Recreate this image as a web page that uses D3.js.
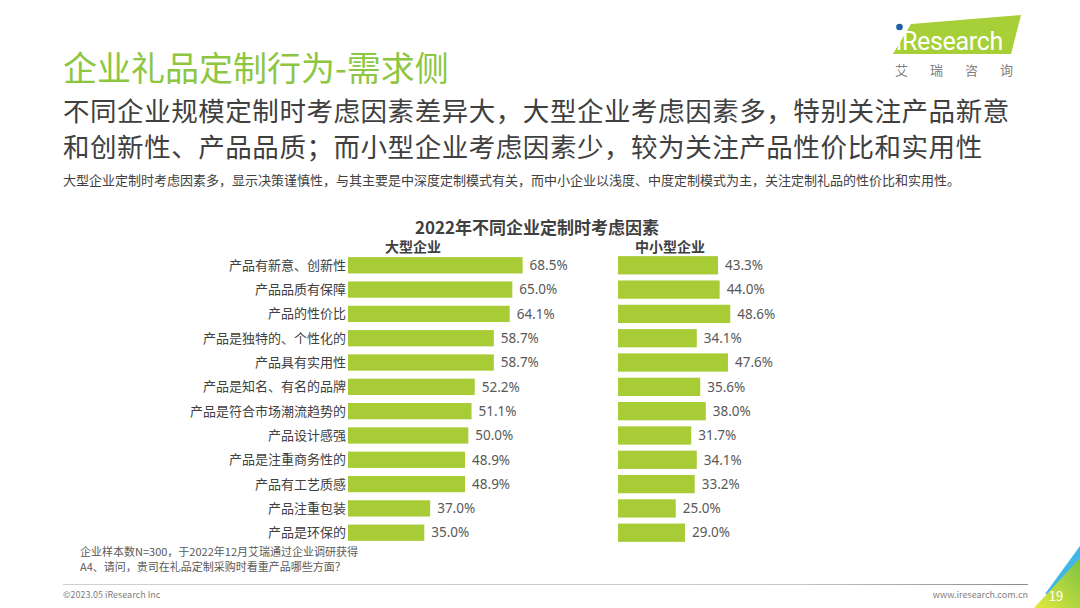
<!DOCTYPE html>
<html>
<head>
<meta charset="utf-8">
<script src="https://cdn.jsdelivr.net/npm/d3@7/dist/d3.min.js"></script>
<style>
  body { margin: 0; background: #fff; }
  svg { display: block; font-family: "Noto Sans CJK SC", "Noto Sans", sans-serif; }
</style>
</head>
<body>
<div id="graph"></div>
<script>
var categories = ["产品有新意、创新性", "产品品质有保障", "产品的性价比", "产品是独特的、个性化的",
    "产品具有实用性", "产品是知名、有名的品牌", "产品是符合市场潮流趋势的", "产品设计感强",
    "产品是注重商务性的", "产品有工艺质感", "产品注重包装", "产品是环保的"];
var largeValues = [68.5, 65.0, 64.1, 58.7, 58.7, 52.2, 51.1, 50.0, 48.9, 48.9, 37.0, 35.0];
var smallValues = [43.3, 44.0, 48.6, 34.1, 47.6, 35.6, 38.0, 31.7, 34.1, 33.2, 25.0, 29.0];
var seriesNames = ["大型企业", "中小型企业"];
var chartTitle = "2022年不同企业定制时考虑因素";

var w = 1080;
var h = 608;
var green = "#a8cc36";
var textColor = "#404040";

var svg = d3.select("#graph")
    .append("svg")
    .attr("width", w)
    .attr("height", h);

// gradients for the footer line and the corner
var defs = svg.append("defs");
var lineGrad = defs.append("linearGradient").attr("id", "lineGrad");
lineGrad.append("stop").attr("offset", "0%").attr("stop-color", "#d0d0d0");
lineGrad.append("stop").attr("offset", "75%").attr("stop-color", "#c8c8c8");
lineGrad.append("stop").attr("offset", "100%").attr("stop-color", "#8a8a8a");

var cornerGrad = defs.append("linearGradient").attr("id", "cornerGrad")
    .attr("x1", "0%").attr("y1", "100%").attr("x2", "100%").attr("y2", "0%");
cornerGrad.append("stop").attr("offset", "0%").attr("stop-color", "#e2ea3c");
cornerGrad.append("stop").attr("offset", "100%").attr("stop-color", "#7cc242");

// header
svg.append("text")
    .attr("x", 63).attr("y", 81)
    .attr("font-size", "34px")
    .attr("fill", "#8dc641")
    .text("企业礼品定制行为-需求侧");

svg.append("text")
    .attr("x", 63).attr("y", 121)
    .attr("font-size", "26.5px")
    .attr("letter-spacing", "0.55px")
    .attr("fill", textColor)
    .text("不同企业规模定制时考虑因素差异大，大型企业考虑因素多，特别关注产品新意");

svg.append("text")
    .attr("x", 63).attr("y", 157)
    .attr("font-size", "26.5px")
    .attr("letter-spacing", "0.55px")
    .attr("fill", textColor)
    .text("和创新性、产品品质；而小型企业考虑因素少，较为关注产品性价比和实用性");

svg.append("text")
    .attr("x", 63).attr("y", 185)
    .attr("font-size", "13px")
    .attr("fill", textColor)
    .text("大型企业定制时考虑因素多，显示决策谨慎性，与其主要是中深度定制模式有关，而中小企业以浅度、中度定制模式为主，关注定制礼品的性价比和实用性。");

// logo
svg.append("polygon")
    .attr("points", "893,54 911,24 1021,15 1011,54")
    .attr("fill", "#a6cf38");
svg.append("circle")
    .attr("cx", 899.5).attr("cy", 27).attr("r", 3.3)
    .attr("fill", "#1f5fa8");
svg.append("text")
    .attr("x", 896).attr("y", 50)
    .attr("font-family", "Roboto, sans-serif")
    .attr("font-size", "25px")
    .attr("letter-spacing", "-0.3px")
    .attr("fill", "#fff")
    .text("ıResearch");
svg.append("text")
    .attr("x", 895).attr("y", 75)
    .attr("font-size", "13px")
    .attr("letter-spacing", "22px")
    .attr("fill", "#7f7f7f")
    .text("艾瑞咨询");

// chart
var y = d3.scaleBand()
    .domain(categories)
    .range([253, 545])
    .paddingInner(0.33)
    .paddingOuter(0.17);

// left axis in the source does not start at zero
var xLarge = d3.scaleLinear().domain([9, 70]).range([348, 527]);
var xSmall = d3.scaleLinear().domain([0, 50]).range([618, 733.5]);

svg.append("text")
    .attr("x", 537).attr("y", 234)
    .attr("text-anchor", "middle")
    .attr("font-size", "17px")
    .attr("font-weight", "bold")
    .attr("fill", textColor)
    .text(chartTitle);

var headerX = [413, 670];
svg.selectAll(".series-name")
    .data(seriesNames)
    .enter()
    .append("text")
    .attr("class", "series-name")
    .attr("x", function(d, i) { return headerX[i]; })
    .attr("y", 252)
    .attr("text-anchor", "middle")
    .attr("font-size", "14px")
    .attr("font-weight", "bold")
    .attr("fill", textColor)
    .text(function(d) { return d; });

// category labels
svg.selectAll(".cat")
    .data(categories)
    .enter()
    .append("text")
    .attr("class", "cat")
    .attr("x", 346)
    .attr("y", function(d) { return y(d) + y.bandwidth() / 2; })
    .attr("dy", "0.35em")
    .attr("text-anchor", "end")
    .attr("font-size", "13px")
    .attr("fill", textColor)
    .text(function(d) { return d; });

function drawBars(values, x, extra) {
    var g = svg.append("g");
    g.selectAll("rect")
        .data(values)
        .enter()
        .append("rect")
        .attr("x", x.range()[0])
        .attr("y", function(d, i) { return y(categories[i]) - extra / 2; })
        .attr("width", function(d) { return x(d) - x.range()[0]; })
        .attr("height", y.bandwidth() + extra)
        .attr("fill", green);

    g.selectAll("text")
        .data(values)
        .enter()
        .append("text")
        .attr("x", function(d) { return x(d) + 7; })
        .attr("y", function(d, i) { return y(categories[i]) + y.bandwidth() / 2; })
        .attr("dy", "0.35em")
        .attr("font-family", "'Noto Sans', sans-serif")
        .attr("font-size", "13.5px")
        .attr("fill", "#595959")
        .text(function(d) { return d.toFixed(1) + "%"; });
}

drawBars(largeValues, xLarge, 0);
drawBars(smallValues, xSmall, 2);

// notes
svg.append("text")
    .attr("x", 80).attr("y", 556)
    .attr("font-size", "11px")
    .attr("fill", "#595959")
    .text("企业样本数N=300，于2022年12月艾瑞通过企业调研获得");
svg.append("text")
    .attr("x", 80).attr("y", 571)
    .attr("font-size", "11px")
    .attr("fill", "#595959")
    .text("A4、请问，贵司在礼品定制采购时看重产品哪些方面？");

// footer
svg.append("rect")
    .attr("x", 63).attr("y", 584)
    .attr("width", 965).attr("height", 1)
    .attr("fill", "url(#lineGrad)");
svg.append("text")
    .attr("x", 63).attr("y", 598)
    .attr("font-size", "9px")
    .attr("fill", "#7f7f7f")
    .text("©2023.05 iResearch Inc");
svg.append("text")
    .attr("x", 1028).attr("y", 598)
    .attr("text-anchor", "end")
    .attr("font-size", "9px")
    .attr("fill", "#7f7f7f")
    .text("www.iresearch.com.cn");

svg.append("polygon")
    .attr("points", "1080,546 1080,594 1045,594")
    .attr("fill", "#41b6e6");
svg.append("polygon")
    .attr("points", "1034,608 1080,558 1080,608")
    .attr("fill", "url(#cornerGrad)");
svg.append("text")
    .attr("x", 1056).attr("y", 601)
    .attr("text-anchor", "middle")
    .attr("font-size", "13px")
    .attr("fill", "#fff")
    .text("19");
</script>
</body>
</html>
